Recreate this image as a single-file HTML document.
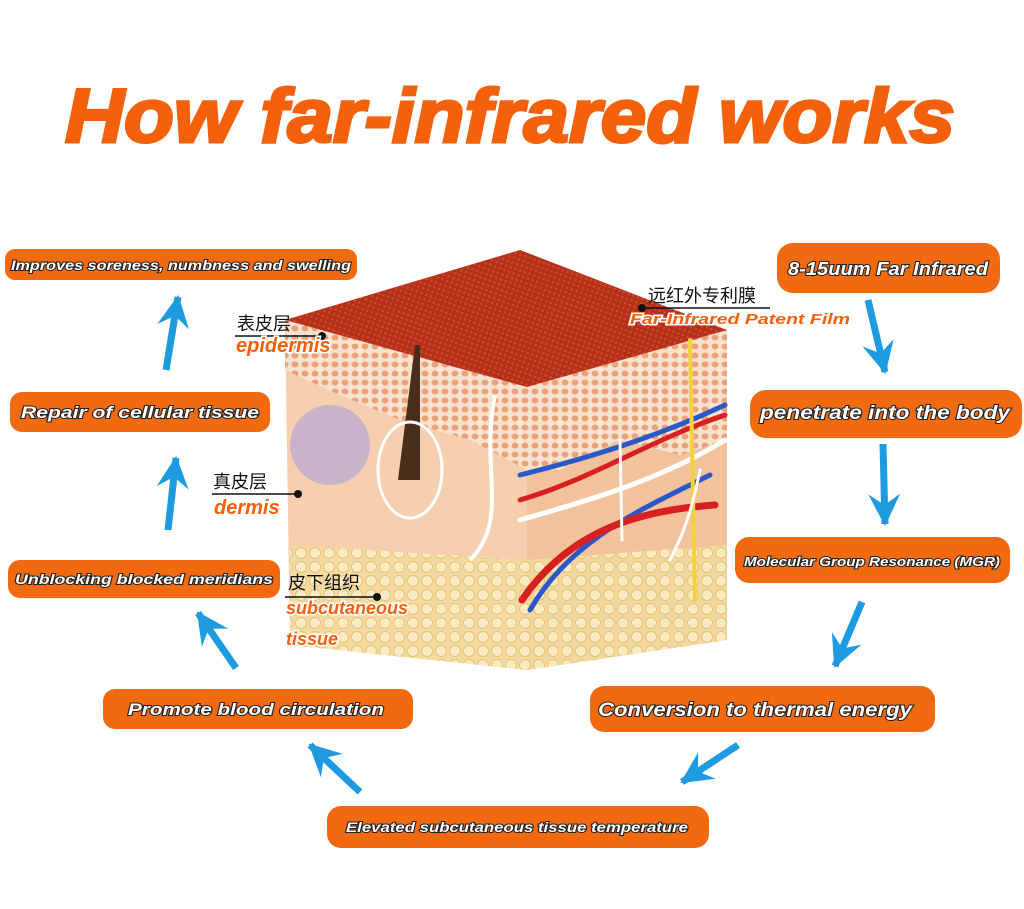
<!DOCTYPE html>
<html><head><meta charset="utf-8"><style>
html,body{margin:0;padding:0;background:#fff;}
svg{display:block}
</style></head><body>
<svg width="1024" height="909" viewBox="0 0 1024 909" xmlns="http://www.w3.org/2000/svg">
<defs>
<pattern id="mesh" width="5" height="5" patternUnits="userSpaceOnUse" patternTransform="rotate(20)">
<rect width="5" height="5" fill="#b3301a"/><rect width="2.5" height="2.5" fill="#cf4527"/>
</pattern>
<pattern id="fat" width="14" height="14" patternUnits="userSpaceOnUse">
<rect width="14" height="14" fill="#f3dca0"/><circle cx="7" cy="7" r="5.5" fill="#fbeec5" stroke="#e6c26e" stroke-width="1"/>
</pattern>
<pattern id="cells" width="10" height="9" patternUnits="userSpaceOnUse">
<rect width="10" height="9" fill="#f7e2cf"/><ellipse cx="5" cy="4.5" rx="3.5" ry="3" fill="#eba27a"/>
</pattern>
<marker id="ah" markerWidth="40" markerHeight="40" refX="30" refY="18" orient="auto" markerUnits="userSpaceOnUse">
<path d="M0,2 L32,18 L0,34 L11,18 Z" fill="#1e9be0"/>
</marker>
</defs>

<text x="510" y="142" text-anchor="middle" font-family="Liberation Sans, sans-serif" font-weight="bold" font-style="italic" font-size="76" fill="#f5610a" stroke="#f5610a" stroke-width="3" textLength="890" lengthAdjust="spacingAndGlyphs">How far-infrared works</text>

<polygon points="285,320 527,387 527,670 290,645" fill="#f6cfae"/>
<polygon points="527,387 727,330 727,640 527,670" fill="#f2c29d"/>
<polygon points="290,545 527,560 527,670 290,645" fill="url(#fat)" opacity="0.9"/>
<polygon points="527,560 727,545 727,640 527,670" fill="url(#fat)" opacity="0.9"/>
<polygon points="285,320 527,387 527,470 470,440 400,420 340,395 285,370" fill="url(#cells)"/>
<polygon points="527,387 727,330 727,440 680,455 620,440 560,470 527,470" fill="url(#cells)"/>
<polygon points="285,320 520,250 727,330 527,387" fill="url(#mesh)"/>
<path d="M415,345 L398,480 L420,480 L420,345 Z" fill="#4a2e1c"/>
<ellipse cx="410" cy="470" rx="32" ry="48" fill="none" stroke="#fff" stroke-width="3"/>
<path d="M495,395 C480,470 510,520 470,560" fill="none" stroke="#fff" stroke-width="4"/>
<circle cx="330" cy="445" r="40" fill="#c9b3c9"/>
<g fill="none" stroke-width="5" stroke-linecap="round">
<path d="M520,475 C580,460 650,440 725,405" stroke="#2a58c8"/>
<path d="M520,500 C590,480 650,440 725,415" stroke="#d82020"/>
<path d="M520,520 C590,500 660,480 725,440" stroke="#fff"/>
<path d="M530,610 C570,540 640,510 710,475" stroke="#2a58c8"/>
<path d="M522,600 C570,530 640,510 715,505" stroke="#d82020" stroke-width="7"/>
<path d="M690,340 L695,600" stroke="#f1d23a" stroke-width="4"/>
<path d="M620,440 L622,540" stroke="#fff" stroke-width="3"/>
<path d="M700,470 C690,520 680,540 670,560" stroke="#fff" stroke-width="3"/>
</g>

<g font-family="Liberation Sans, 'Noto Sans CJK SC', sans-serif">
<text x="237" y="330" font-size="18" fill="#111">表皮层</text>
<line x1="235" y1="336" x2="322" y2="336" stroke="#111" stroke-width="1.5"/><circle cx="322" cy="336" r="4" fill="#111"/>
<text x="213" y="488" font-size="18" fill="#111">真皮层</text>
<line x1="212" y1="494" x2="298" y2="494" stroke="#111" stroke-width="1.5"/><circle cx="298" cy="494" r="4" fill="#111"/>
<text x="288" y="589" font-size="18" fill="#111">皮下组织</text>
<line x1="285" y1="597" x2="377" y2="597" stroke="#111" stroke-width="1.5"/><circle cx="377" cy="597" r="4" fill="#111"/>
<text x="648" y="302" font-size="18" fill="#111">远红外专利膜</text>
<line x1="640" y1="308" x2="770" y2="308" stroke="#111" stroke-width="1.5"/><circle cx="642" cy="308" r="4" fill="#111"/>
</g>
<g font-family="Liberation Sans, sans-serif" font-weight="bold" font-style="italic" fill="#f5610a" stroke="#fff" stroke-width="3" paint-order="stroke">
<text x="236" y="352" font-size="20">epidermis</text>
<text x="214" y="514" font-size="20">dermis</text>
<text x="286" y="614" font-size="18">subcutaneous</text>
<text x="286" y="645" font-size="18">tissue</text>
<text x="630" y="324" font-size="15" textLength="220" lengthAdjust="spacingAndGlyphs">Far-Infrared Patent Film</text>
</g>

<g fill="#f26a10">
<rect x="5" y="249" width="352" height="31" rx="10"/>
<rect x="10" y="392" width="260" height="40" rx="12"/>
<rect x="8" y="560" width="272" height="38" rx="12"/>
<rect x="103" y="689" width="310" height="40" rx="12"/>
<rect x="327" y="806" width="382" height="42" rx="14"/>
<rect x="590" y="686" width="345" height="46" rx="14"/>
<rect x="735" y="537" width="275" height="46" rx="14"/>
<rect x="750" y="390" width="272" height="48" rx="16"/>
<rect x="777" y="243" width="223" height="50" rx="16"/>
</g>
<g font-family="Liberation Sans, sans-serif" font-weight="bold" font-style="italic" fill="#fff" stroke="#222" stroke-width="2" paint-order="stroke" text-anchor="middle">
<text x="181" y="270" font-size="14" textLength="340" lengthAdjust="spacingAndGlyphs">Improves soreness, numbness and swelling</text>
<text x="140" y="418" font-size="17" textLength="238" lengthAdjust="spacingAndGlyphs">Repair of cellular tissue</text>
<text x="144" y="584" font-size="14" textLength="258" lengthAdjust="spacingAndGlyphs">Unblocking blocked meridians</text>
<text x="256" y="715" font-size="17" textLength="256" lengthAdjust="spacingAndGlyphs">Promote blood circulation</text>
<text x="517" y="832" font-size="14" textLength="342" lengthAdjust="spacingAndGlyphs">Elevated subcutaneous tissue temperature</text>
<text x="755" y="716" font-size="19" textLength="314" lengthAdjust="spacingAndGlyphs">Conversion to thermal energy</text>
<text x="872" y="566" font-size="13" textLength="256" lengthAdjust="spacingAndGlyphs">Molecular Group Resonance (MGR)</text>
<text x="885" y="419" font-size="19" textLength="250" lengthAdjust="spacingAndGlyphs">penetrate into the body</text>
<text x="888" y="275" font-size="18" textLength="200" lengthAdjust="spacingAndGlyphs">8-15uum Far Infrared</text>
</g>

<g stroke="#1e9be0" stroke-width="7" fill="none" marker-end="url(#ah)">
<line x1="868" y1="300" x2="885" y2="372"/>
<line x1="883" y1="444" x2="885" y2="524"/>
<line x1="862" y1="602" x2="835" y2="666"/>
<line x1="738" y1="745" x2="682" y2="782"/>
<line x1="360" y1="792" x2="310" y2="745"/>
<line x1="236" y1="668" x2="198" y2="613"/>
<line x1="168" y1="530" x2="176" y2="458"/>
<line x1="166" y1="370" x2="178" y2="297"/>
</g>
</svg>
</body></html>
